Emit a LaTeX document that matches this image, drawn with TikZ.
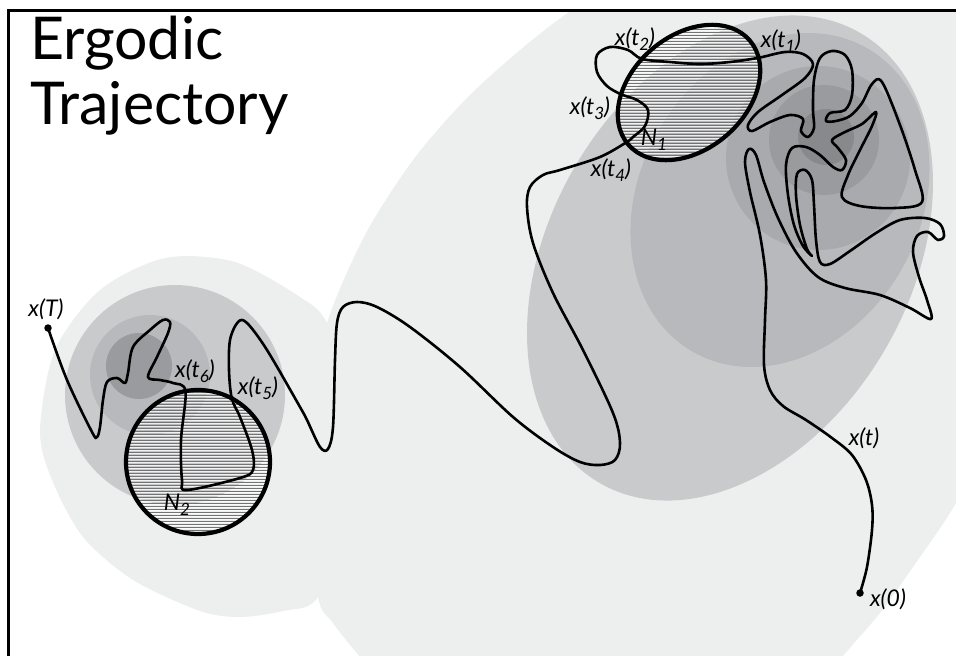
\documentclass[tikz,border=0pt]{standalone}
\usepackage{fontspec}
\setsansfont{Lato}
\usetikzlibrary{calc, positioning, shapes.geometric}
\definecolor{shadeA}{HTML}{EDEEEE}
\definecolor{shadeB}{HTML}{C9CACC}
\definecolor{shadeC}{HTML}{B8B9BC}
\definecolor{shadeD}{HTML}{A9AAAD}
\definecolor{shadeE}{HTML}{9A9B9E}
\definecolor{shadeF}{HTML}{88898C}
\newcommand{\lsub}[1]{\raisebox{-0.22em}{\fontsize{17}{17}\selectfont #1}}

\begin{document}
\begin{tikzpicture}[x=1pt, y=-1pt,
  traj/.style={line width=2.6pt, line join=round, line cap=round},
  nbhd/.style={draw, line width=4.2pt, inner sep=0pt, outer sep=0pt},
  lbl/.style={font=\sffamily\itshape\fontsize{23}{26}\selectfont, inner sep=0pt},
  bigdot/.style={circle, fill, inner sep=0pt, minimum size=7.5pt},
  smalldot/.style={circle, fill, inner sep=0pt, minimum size=5pt},
  hatchln/.style={black!55, line width=0.8pt},
  gapln/.style={white, opacity=.75, line width=1pt}]
\useasboundingbox (0,0) rectangle (956,656);

\begin{scope}
\clip (9,11) rectangle (956,656);
\fill[shadeA] plot[smooth cycle] coordinates {(318,597) (312,500) (315,400) (327,323) (365,235) (413,160) (465,100) (520,50) (575,8) (650,-35) (780,-60) (900,-30) (990,60) (1015,250) (990,430) (956,503) (913,567) (880,613) (843,656) (790,720) (620,760) (450,735) (390,690) (360,657) (333,623)};
\fill[shadeA] plot[smooth cycle] coordinates {(40,430) (55,350) (100,290) (165,258) (235,262) (300,297) (327,323) (350,400) (345,510) (318,597) (283,611) (240,617) (200,611) (133,580) (83,537) (52,480)};
\fill[shadeB, rotate around={-30:(730,258)}] (730,258) ellipse [x radius=180, y radius=260];
\fill[shadeC, rotate around={-30:(780,200)}] (780,200) ellipse [x radius=140, y radius=175];
\fill[shadeD] (818,158) circle [radius=92];
\fill[shadeE] (824,140) circle [radius=55];
\fill[shadeF] (826,137) circle [radius=28];
\fill[shadeB] (175,395) circle [radius=110];
\fill[shadeC] (150,375) circle [radius=60];
\fill[shadeE] (139,366) circle [radius=33];
\end{scope}

\begin{scope}
\clip[rotate around={40.5:(689,92.5)}] (689,92.5) ellipse [x radius=80, y radius=57];
\foreach \yy in {20,23,...,170} {
  \draw[hatchln] (600,\yy) -- (780,\yy);
  \draw[gapln] (600,\yy+1.5) -- (780,\yy+1.5);
}
\end{scope}
\begin{scope}
\clip (198,462) circle [radius=72];
\foreach \yy in {386,389,...,540} {
  \draw[hatchln] (120,\yy) -- (280,\yy);
  \draw[gapln] (120,\yy+1.5) -- (280,\yy+1.5);
}
\end{scope}

\node[nbhd, ellipse, minimum width=160pt, minimum height=114pt, rotate=40.5] (N1) at (689,92.5) {};
\node[nbhd, circle, minimum size=144pt] (N2) at (198,462) {};

\coordinate (xt1) at (N1.-14);
\coordinate (xt2) at (N1.104);
\coordinate (xt3) at (N1.141);
\coordinate (xt4) at (N1.178);
\coordinate (xt5) at (N2.62);
\coordinate (xt6) at (N2.100);
\coordinate (xo) at (860,593);
\coordinate (xT) at (48,328);

\draw[traj] plot[smooth, tension=0.55] coordinates {(xo) (867,567) (872,530) (872,505) (866,480) (852,455) (832,438) (806,420) (783,406) (770,390) (764,365) (765,320) (766,280) (760,235) (750,192) (745,162) (749,149) (756,155) (764,182) (778,218) (796,252) (818,277) (845,288) (880,295) (910,308) (931,319) (927,300) (919,277) (913,252) (917,236) (928,232) (938,240) (944,236) (940,224) (925,218) (900,220) (876,233) (850,251) (830,264) (820,262) (816,240) (814,205) (812,180) (805,170) (797,174) (796,195) (800,225) (807,249) (812,256) (803,246) (794,225) (788,195) (786,165) (792,148) (806,147) (820,155) (833,167) (842,170) (846,160) (838,148) (832,140) (845,132) (862,124) (876,112) (872,126) (860,150) (848,175) (842,197) (860,206) (895,208) (922,202) (915,170) (900,125) (882,82) (872,84) (862,103) (850,116) (836,121) (826,121) (830,113) (845,110) (852,95) (852,70) (845,55) (832,51) (820,58) (814,80) (813,110) (814,128) (808,137) (801,131) (803,119) (790,115) (770,122) (752,131) (748,125) (758,112) (782,95) (805,78) (813,64) (803,54) (785,52) (xt1) (730,62) (700,64) (670,62) (xt2) (628,50) (610,47) (597,55) (597,72) (607,86) (xt3) (637,100) (648,110) (645,126) (633,137) (xt4) (600,157) (560,170) (543,175) (530,187) (527,207) (533,243) (553,293) (583,350) (613,413) (620,443) (615,460) (600,465) (580,462) (553,447) (513,417) (460,367) (410,327) (377,307) (357,302) (343,307) (337,323) (335,360) (333,427) (328,449) (320,447) (307,420) (300,407) (267,350) (247,323) (238,322) (230,340) (229,370) (xt5) (240,417) (252,450) (253,470) (240,478) (187,490) (182,480) (181,440) (xt6) (173,383) (160,380) (148,377) (157,357) (168,333) (170,322) (163,320) (150,330) (133,347) (128,373) (125,383) (117,378) (107,382) (103,400) (100,427) (97,437) (92,432) (67,380) (xT)};

\node[bigdot] (dxo) at (xo) {};
\node[bigdot] (dxT) at (xT) {};
\node[smalldot] (d1) at (xt1) {};
\node[smalldot] (d2) at (xt2) {};
\node[smalldot] (d3) at (xt3) {};
\node[smalldot] (d4) at (xt4) {};
\node[smalldot] (d5) at (xt5) {};
\node[smalldot] (d6) at (xt6) {};

\node[lbl] (lxo) at (888,599) {x(0)};
\node[lbl] (lxt) at (864,438) {x(t)};
\node[lbl] (lxt1) at (781,41) {x(t\lsub{1})};
\node[lbl] (lxt2) at (635,39) {x(t\lsub{2})};
\node[lbl] (lxt3) at (590,108) {x(t\lsub{3})};
\node[lbl] (lxt4) at (611,170) {x(t\lsub{4})};
\node[lbl] (lN1) at (654,140) {N\lsub{1}};
\node[lbl] (lxT) at (46,309) {x(T)};
\node[lbl] (lxt6) at (195,371) {x(t\lsub{6})};
\node[lbl] (lxt5) at (258,388) {x(t\lsub{5})};
\node[lbl] (lN2) at (177,505) {N\lsub{2}};

\node[anchor=base west, inner sep=0pt, font=\sffamily\fontsize{59}{70}\selectfont] (ergo) at (30,59) {Ergodic};
\node[anchor=base west, inner sep=0pt, font=\sffamily\fontsize{59}{70}\selectfont] (traject) at (30,124) {Trajectory};

\draw[line width=3pt] (8.5,656) -- (8.5,10) -- (956,10);
\end{tikzpicture}
\end{document}
